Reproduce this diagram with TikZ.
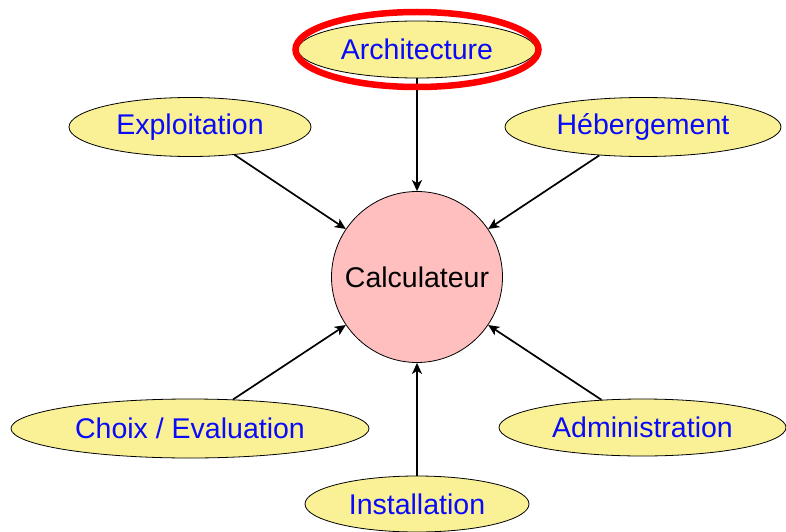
\documentclass[tikz,border=0pt]{standalone}
\usepackage{fontspec}
\setmainfont{Liberation Sans}
\usetikzlibrary{shapes.geometric,arrows.meta}
\definecolor{ellyellow}{RGB}{250,241,150}
\definecolor{circpink}{RGB}{255,191,191}
\definecolor{txtblue}{RGB}{10,10,250}
\begin{document}
\begin{tikzpicture}[x=1pt,y=-1pt,
  topic/.style={ellipse, draw=black, line width=0.8pt, fill=ellyellow, inner sep=0pt,
    text=txtblue, font=\fontsize{28.5}{34}\selectfont},
  hub/.style={circle, draw=black, line width=0.8pt, fill=circpink, inner sep=0pt,
    minimum size=171pt, font=\fontsize{28.5}{34}\selectfont},
  link/.style={line width=1.7pt, -{Stealth[length=11pt,width=10pt,inset=3pt]}}]
\useasboundingbox (0,0) rectangle (786,532);
\clip (0,0) rectangle (786,532);
\node[hub] (calc) at (417,277) {Calculateur};
\node[topic, minimum width=238pt, minimum height=57pt] (arch) at (417,49.5) {Architecture};
\node[topic, minimum width=242pt, minimum height=59pt] (expl) at (190,127) {Exploitation};
\node[topic, minimum width=276pt, minimum height=59pt] (heb) at (643,127) {Hébergement};
\node[topic, minimum width=358pt, minimum height=59pt] (choix) at (190,428.5) {Choix / Evaluation};
\node[topic, minimum width=287pt, minimum height=57pt] (admin) at (642.5,427.5) {Administration};
\node[topic, minimum width=224pt, minimum height=56pt] (inst) at (417,504) {Installation};
\draw[link] (arch.south) -- (calc.north);
\draw[link] (expl.-32) -- (calc.146);
\draw[link] (heb.213) -- (calc.34);
\draw[link] (choix.34) -- (calc.214);
\draw[link] (admin.146) -- (calc.-34);
\draw[link] (inst.north) -- (calc.south);
\draw[red, line width=6.5pt] (arch.center) ellipse [x radius=121.5pt, y radius=37.5pt];
\end{tikzpicture}
\end{document}
